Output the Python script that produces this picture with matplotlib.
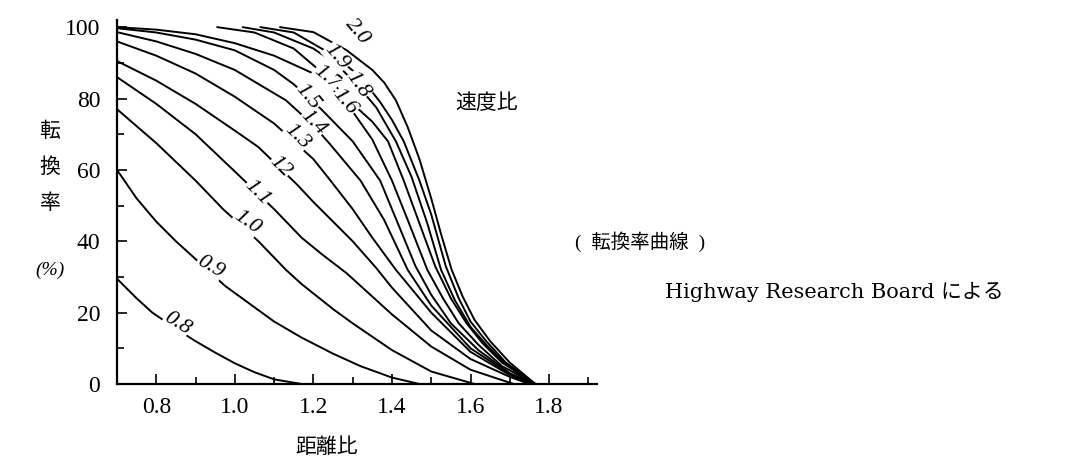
import matplotlib.pyplot as plt
from matplotlib.ticker import MultipleLocator

# 距離比 (x) と 転換率 % (y) を図から読み取った値
x_08 = [0.70, 0.75, 0.79, 0.85, 0.90, 0.95, 1.00, 1.05, 1.10, 1.17]
y_08 = [29.5, 24.0, 20.0, 15.5, 12.0, 8.8, 5.8, 3.3, 1.3, 0.0]

x_09 = [0.70, 0.75, 0.80, 0.85, 0.89, 0.975, 1.05, 1.10, 1.17, 1.25, 1.32, 1.40, 1.47]
y_09 = [60.0, 52.0, 45.5, 40.0, 36.0, 27.5, 21.5, 17.5, 13.0, 8.5, 5.0, 1.8, 0.0]

x_10 = [0.70, 0.80, 0.90, 0.97, 1.06, 1.13, 1.17, 1.25, 1.30, 1.40, 1.50, 1.61]
y_10 = [77.0, 67.5, 57.0, 49.0, 40.0, 32.0, 28.0, 21.0, 17.0, 9.5, 3.5, 0.0]

x_11 = [0.70, 0.80, 0.90, 1.01, 1.10, 1.17, 1.22, 1.285, 1.35, 1.40, 1.50, 1.60, 1.71]
y_11 = [86.0, 78.5, 70.0, 58.5, 49.0, 41.0, 36.5, 31.0, 24.5, 19.5, 10.5, 4.0, 0.0]

x_12 = [0.70, 0.80, 0.90, 1.00, 1.06, 1.16, 1.20, 1.30, 1.36, 1.40, 1.50, 1.60, 1.70, 1.75]
y_12 = [90.5, 85.0, 78.5, 71.0, 66.4, 55.7, 51.0, 40.0, 32.5, 27.0, 15.0, 7.0, 2.0, 0.0]

x_13 = [0.70, 0.80, 0.90, 1.00, 1.10, 1.20, 1.24, 1.30, 1.35, 1.41, 1.50, 1.60, 1.70, 1.76]
y_13 = [96.0, 92.0, 87.0, 80.5, 73.0, 63.0, 57.5, 49.0, 41.0, 32.0, 20.0, 9.0, 2.5, 0.0]

x_14 = [0.70, 0.80, 0.90, 1.00, 1.13, 1.20, 1.24, 1.32, 1.38, 1.44, 1.50, 1.60, 1.70, 1.765]
y_14 = [98.6, 96.0, 92.5, 88.0, 79.5, 72.5, 67.5, 57.0, 46.0, 32.0, 22.0, 10.0, 2.8, 0.0]

x_15 = [0.70, 0.80, 0.90, 1.00, 1.10, 1.15, 1.22, 1.30, 1.37, 1.43, 1.46, 1.50, 1.55, 1.62, 1.70, 1.765]
y_15 = [99.7, 98.5, 96.5, 93.5, 88.0, 84.0, 77.0, 68.0, 57.0, 41.0, 33.0, 25.0, 17.0, 9.5, 3.0, 0.0]

x_16 = [0.70, 0.80, 0.90, 1.00, 1.10, 1.20, 1.28, 1.35, 1.40, 1.44, 1.49, 1.53, 1.57, 1.62, 1.68, 1.765]
y_16 = [100.0, 99.3, 98.0, 95.5, 92.0, 87.0, 79.5, 68.5, 57.0, 46.0, 32.0, 24.0, 17.0, 11.0, 5.0, 0.0]

x_17 = [0.955, 1.05, 1.15, 1.23, 1.30, 1.35, 1.39, 1.43, 1.47, 1.51, 1.55, 1.59, 1.63, 1.68, 1.765]
y_17 = [100.0, 98.5, 94.0, 86.5, 78.5, 73.5, 68.0, 57.0, 45.0, 33.0, 24.0, 17.0, 11.5, 6.0, 0.0]

x_18 = [1.02, 1.10, 1.20, 1.26, 1.31, 1.36, 1.41, 1.45, 1.49, 1.525, 1.56, 1.60, 1.64, 1.69, 1.765]
y_18 = [100.0, 98.5, 94.0, 89.5, 84.0, 77.5, 68.0, 58.0, 45.0, 32.0, 23.5, 16.0, 11.0, 5.5, 0.0]

x_19 = [1.065, 1.15, 1.26, 1.32, 1.37, 1.40, 1.43, 1.47, 1.50, 1.537, 1.57, 1.60, 1.64, 1.69, 1.765]
y_19 = [100.0, 98.5, 91.5, 86.0, 79.0, 74.0, 68.0, 57.0, 47.5, 33.0, 24.0, 17.5, 12.0, 6.0, 0.0]

x_20 = [1.115, 1.20, 1.285, 1.35, 1.38, 1.41, 1.44, 1.47, 1.50, 1.525, 1.552, 1.58, 1.61, 1.65, 1.70, 1.765]
y_20 = [100.0, 98.6, 93.5, 88.0, 84.5, 79.5, 72.0, 63.0, 52.0, 42.0, 32.0, 24.5, 18.0, 12.0, 6.0, 0.0]

# 速度比ラベル (文字, x, y, 角度)
lbl_text = ["0.8", "0.9", "1.0", "1.1", "12", "1.3", "1.4", "1.5", "1.6", "1.7", "1.8", "1.9", "2.0"]
lbl_x = [0.853, 0.937, 1.031, 1.056, 1.115, 1.158, 1.199, 1.186, 1.28, 1.234, 1.313, 1.26, 1.311]
lbl_y = [17.0, 32.8, 45.4, 53.5, 60.8, 69.2, 73.1, 80.4, 79.0, 86.0, 83.7, 91.6, 98.6]
lbl_rot = [-32, -30, -35, -45, -45, -45, -45, -50, -50, -40, -55, -50, -50]

plt.rcParams['font.family'] = ['Liberation Serif', 'Noto Sans CJK JP']

fig = plt.figure(figsize=(10.65, 4.65), dpi=100)
ax = fig.add_axes([117 / 1065, 1 - 384 / 465, 480 / 1065, (384 - 20) / 465])

curves = [(x_08, y_08), (x_09, y_09), (x_10, y_10), (x_11, y_11), (x_12, y_12),
          (x_13, y_13), (x_14, y_14), (x_15, y_15), (x_16, y_16), (x_17, y_17),
          (x_18, y_18), (x_19, y_19), (x_20, y_20)]
for xs, ys in curves:
    ax.plot(xs, ys, color="black", lw=1.4, solid_capstyle="round", solid_joinstyle="round")

for t, x, y, r in zip(lbl_text, lbl_x, lbl_y, lbl_rot):
    ax.text(x, y, t, rotation=r, ha="center", va="center", fontsize=16, style="italic",
            bbox=dict(facecolor="white", edgecolor="none", pad=0.3))

ax.set_xlim(0.7, 1.922)
ax.set_ylim(0, 102)
ax.spines["top"].set_visible(False)
ax.spines["right"].set_visible(False)
ax.spines["left"].set_linewidth(1.6)
ax.spines["bottom"].set_linewidth(1.6)

ax.set_xticks([0.8, 1.0, 1.2, 1.4, 1.6, 1.8])
ax.set_xticklabels(["0.8", "1.0", "1.2", "1.4", "1.6", "1.8"])
ax.xaxis.set_minor_locator(MultipleLocator(0.1))
ax.set_yticks([0, 20, 40, 60, 80, 100])
ax.yaxis.set_minor_locator(MultipleLocator(10))
ax.tick_params(axis="both", which="both", direction="in", labelsize=17, width=1.2)
ax.tick_params(axis="both", which="major", length=7)
ax.tick_params(axis="both", which="minor", length=5)
ax.tick_params(axis="x", pad=9)
ax.tick_params(axis="y", pad=12)


def px(x, y):
    return x / 1065, 1 - y / 465


for ch, yy in zip(["転", "換", "率"], [132, 168, 204]):
    fig.text(*px(50, yy), ch, ha="center", va="center", fontsize=15)
fig.text(*px(50, 270), "(%)", ha="center", va="center", fontsize=14, style="italic")
fig.text(*px(327, 448), "距離比", ha="center", va="center", fontsize=15)
fig.text(*px(487, 104), "速度比", ha="center", va="center", fontsize=15)
fig.text(*px(575, 242), "(  転換率曲線  )", ha="left", va="center", fontsize=14)
fig.text(*px(665, 292), "Highway Research Board による", ha="left", va="center", fontsize=15,
         family=["DejaVu Serif", "Noto Sans CJK JP"])

fig.savefig("out.png", dpi=100)
